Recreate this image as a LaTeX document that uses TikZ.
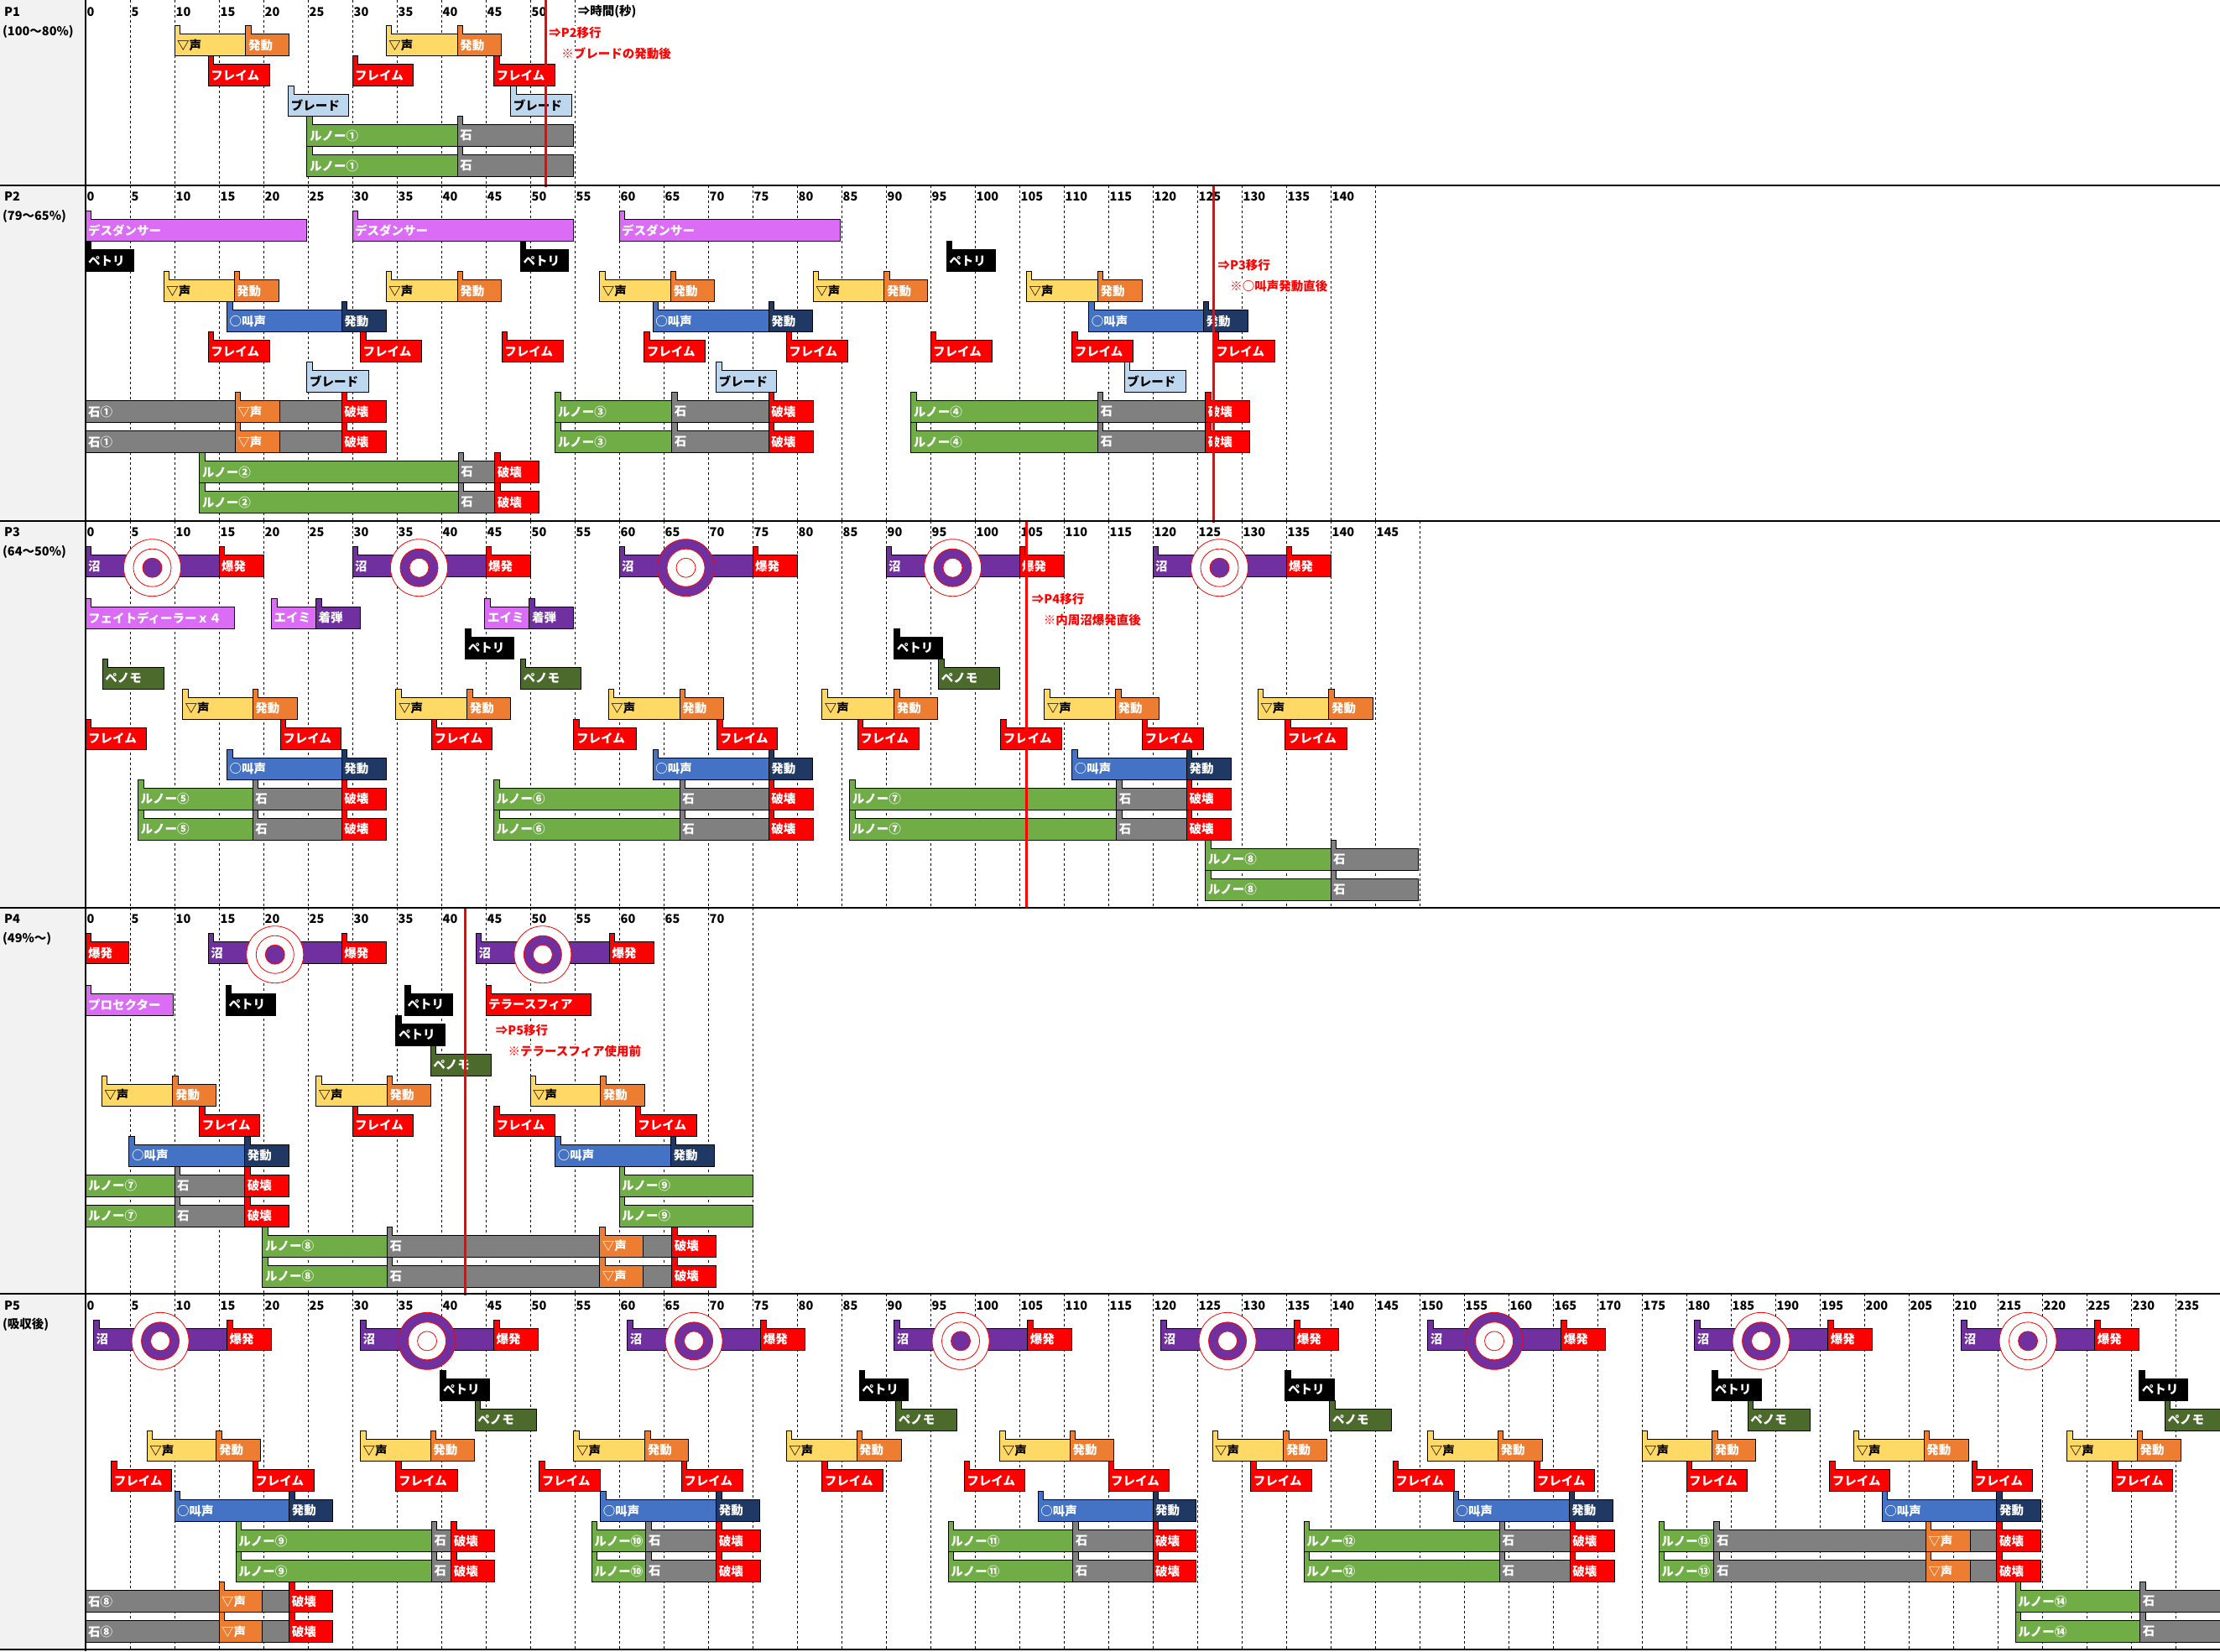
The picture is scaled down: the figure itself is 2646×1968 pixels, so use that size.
\documentclass[tikz,border=0pt]{standalone}
\usepackage{fontspec}
\setmainfont{Noto Sans CJK JP}

\definecolor{koeC}{HTML}{FFD966}
\definecolor{hatsuC}{HTML}{ED7D31}
\definecolor{flameC}{HTML}{FF0000}
\definecolor{bladeC}{HTML}{BDD7EE}
\definecolor{runoC}{HTML}{70AD47}
\definecolor{ishiC}{HTML}{808080}
\definecolor{danceC}{HTML}{DA6CF5}
\definecolor{sakebiC}{HTML}{4472C4}
\definecolor{navyC}{HTML}{203864}
\definecolor{numaC}{HTML}{7030A0}
\definecolor{penoC}{HTML}{4B6A2C}
\definecolor{colbg}{HTML}{F2F2F2}

\newcommand\lblfont{\fontsize{14.5}{16}\selectfont\bfseries}

\tikzset{
  barline/.style={draw=black, line width=1pt},
  lbl/.style={fill=none, anchor=west, inner sep=0pt, xshift=3pt, font=\lblfont},
  num/.style={anchor=west, inner sep=0pt, xshift=1.5pt, font=\lblfont},
  plbl/.style={anchor=west, inner sep=0pt, font=\lblfont},
  note/.style={anchor=west, inner sep=1pt, fill=white, text=flameC, font=\lblfont},
  gridline/.style={black, line width=0.8pt, dash pattern=on 3pt off 3pt},
  phase/.style={flameC, line width=3pt},
  ring/.style={draw=flameC, line width=0.8pt},
  koebar/.style={fill=koeC, text=black},
  hatsubar/.style={fill=hatsuC, text=white},
  flamebar/.style={fill=flameC, text=white},
  bladebar/.style={fill=bladeC, text=black},
  runobar/.style={fill=runoC, text=white},
  ishibar/.style={fill=ishiC, text=white},
  dancebar/.style={fill=danceC, text=white},
  petribar/.style={fill=black, text=white},
  sakebibar/.style={fill=sakebiC, text=white},
  navybar/.style={fill=navyC, text=white},
  numabar/.style={fill=numaC, text=white},
  penobar/.style={fill=penoC, text=white}
}

\newcount\lblno
% bar with a tab: {start}{end}{top}{style}{text}
\newcommand\flag[5]{%
  \filldraw[#4, barline] (#1,#3+26) -- (#1,#3-10) -- ++(6.5pt,0pt) -- ++(0pt,-10pt) -- (#2,#3) -- (#2,#3+26) -- cycle;
  \global\advance\lblno by 1
  \node[#4, lbl] (b\the\lblno) at (#1,#3+13) {#5};}
% bar without a tab
\newcommand\plainbar[5]{%
  \filldraw[#4, barline] (#1,#3) rectangle (#2,#3+26);
  \global\advance\lblno by 1
  \node[#4, lbl] (b\the\lblno) at (#1,#3+13) {#5};}
\newcommand\koe[4]{\flag{#1}{#2}{#4}{koebar}{▽声}\flag{#2}{#3}{#4}{hatsubar}{発動}}
\newcommand\sakebi[4]{\flag{#1}{#2}{#4}{sakebibar}{○叫声}\flag{#2}{#3}{#4}{navybar}{発動}}
\newcommand\runo[6]{%
  \foreach \yy in {#5,#5+36}{%
    \flag{#1}{#2}{\yy}{runobar}{#6}\flag{#2}{#3}{\yy}{ishibar}{石}\flag{#3}{#4}{\yy}{flamebar}{破壊}}}
\newcommand\target[5]{%
  \filldraw[ring, fill=#3] (#1,#2) circle (34pt);
  \filldraw[ring, fill=#4] (#1,#2) circle (22.5pt);
  \filldraw[ring, fill=#5] (#1,#2) circle (11.5pt);}
\newcommand\numa[5]{%
  \flag{#1}{#1+15}{#2}{numabar}{沼}\flag{#1+15}{#1+20}{#2}{flamebar}{爆発}%
  \target{#1+7.5}{#2+15}{#3}{#4}{#5}}

\begin{document}
\begin{tikzpicture}[x=1pt, y=-1pt]
 \useasboundingbox (0,0) rectangle (2646,1968);
 \fill[white] (0,0) rectangle (2646,1968);
 \fill[colbg] (0,0) rectangle (102,1968);
 \node[plbl] (p1) at (5,14) {P1};
 \node[plbl] (p1r) at (3,37.5) {(100～80\%)};
 \node[plbl] (p2) at (5,234) {P2};
 \node[plbl] (p2r) at (3,257.5) {(79～65\%)};
 \node[plbl] (p3) at (5,634) {P3};
 \node[plbl] (p3r) at (3,657.5) {(64～50\%)};
 \node[plbl] (p4) at (5,1095) {P4};
 \node[plbl] (p4r) at (3,1118.5) {(49\%～)};
 \node[plbl] (p5) at (5,1556) {P5};
 \node[plbl] (p5r) at (3,1579) {(吸収後)};

 \begin{scope}[xshift=102pt, x=10.6pt]
 % P1
 \foreach \t in {5,10,...,55} \draw[gridline] (\t,0) -- (\t,221);
 \foreach \t in {0,5,...,50} \node[num] (ha\t) at (\t,14) {\t};
 \node[num] (time) at (55.2,14) {⇒時間(秒)};
 \koe{10}{18}{22.9}{40.7}
 \koe{33.8}{41.8}{46.7}{40.7}
 \foreach \a/\b in {13.8/20.7, 30/36.8, 45.9/52.8} \flag{\a}{\b}{76.7}{flamebar}{フレイム};
 \foreach \a/\b in {22.8/29.6, 47.8/54.7} \flag{\a}{\b}{112.7}{bladebar}{ブレード};
 \foreach \yy in {148.7,184.7}{\flag{24.9}{41.8}{\yy}{runobar}{ルノー①}\flag{41.8}{54.9}{\yy}{ishibar}{石}}
 \draw[phase] (51.7,0) -- (51.7,223);
 \node[note] (n1a) at (52,39) {⇒P2移行};
 \node[note] (n1b) at (53.4,64) {※ブレードの発動後};

 % P2
 \foreach \t in {5,10,...,145} \draw[gridline] (\t,221) -- (\t,621);
 \foreach \t in {0,5,...,140} \node[num] (hb\t) at (\t,234) {\t};
 \foreach \a/\b in {0/24.9, 30/54.9, 60/84.9} \flag{\a}{\b}{261.7}{dancebar}{デスダンサー};
 \foreach \a/\b in {0/5.4, 48.9/54.3, 96.8/102.3} \flag{\a}{\b}{297.7}{petribar}{ペトリ};
 \foreach \a/\b/\c in {8.8/16.7/21.7, 33.8/41.8/46.7, 57.8/65.8/70.7, 81.8/89.8/94.7, 105.8/113.8/118.8} \koe{\a}{\b}{\c}{333.7};
 \foreach \a/\b/\c in {15.9/28.8/33.8, 63.8/76.8/81.7, 112.8/125.7/130.7} \sakebi{\a}{\b}{\c}{369.7};
 \foreach \a/\b in {13.8/20.7, 30.9/37.8, 46.8/53.7, 62.8/69.7, 78.8/85.7, 95/101.9, 110.9/117.8, 126.8/133.7} \flag{\a}{\b}{405.7}{flamebar}{フレイム};
 \foreach \a/\b in {24.9/31.8, 70.9/77.7, 116.8/123.7} \flag{\a}{\b}{441.7}{bladebar}{ブレード};
 \foreach \yy in {477.7,513.7}{\plainbar{0}{28.8}{\yy}{ishibar}{石①}\flag{16.8}{21.8}{\yy}{hatsubar}{▽声}\flag{28.8}{33.8}{\yy}{flamebar}{破壊}}
 \runo{52.8}{65.9}{76.8}{81.8}{477.7}{ルノー③}
 \runo{92.8}{113.8}{125.9}{130.9}{477.7}{ルノー④}
 \runo{12.8}{41.9}{46}{51}{549.7}{ルノー②}
 \draw[phase] (126.8,221) -- (126.8,623);
 \node[note] (n2a) at (127.2,315.7) {⇒P3移行};
 \node[note] (n2b) at (128.6,340.7) {※○叫声発動直後};

 % P3
 \foreach \t in {5,10,...,150} \draw[gridline] (\t,621) -- (\t,1082);
 \foreach \t in {0,5,...,145} \node[num] (hc\t) at (\t,634) {\t};
 \numa{0}{661.7}{white}{white}{numaC}
 \numa{30}{661.7}{white}{numaC}{white}
 \numa{60}{661.7}{numaC}{white}{white}
 \numa{90}{661.7}{white}{numaC}{white}
 \numa{120}{661.7}{white}{white}{numaC}
 \flag{0}{16.7}{723.4}{dancebar}{フェイトディーラーｘ４}
 \foreach \a in {20.9,44.9}{\flag{\a}{\a+5}{723.4}{dancebar}{エイミ}\flag{\a+5}{\a+10}{723.4}{numabar}{着弾}}
 \foreach \a/\b in {42.7/48.2, 90.9/96.4} \flag{\a}{\b}{759.4}{petribar}{ペトリ};
 \foreach \a/\b in {1.9/8.8, 48.9/55.7, 95.9/102.8} \flag{\a}{\b}{795.4}{penobar}{ペノモ};
 \foreach \a/\b/\c in {10.9/18.8/23.8, 34.9/42.9/47.8, 58.8/66.8/71.7, 82.8/90.9/95.8, 107.8/115.8/120.7, 131.8/139.8/144.8} \koe{\a}{\b}{\c}{831.4};
 \foreach \a/\b in {0/6.8, 21.9/28.7, 38.9/45.7, 54.9/61.9, 71/77.8, 86.8/93.7, 102.9/109.8, 118.8/125.7, 134.9/141.8} \flag{\a}{\b}{867.4}{flamebar}{フレイム};
 \foreach \a/\b/\c in {15.9/28.8/33.8, 63.8/76.8/81.7, 110.9/123.8/128.8} \sakebi{\a}{\b}{\c}{903.4};
 \runo{5.9}{18.8}{28.8}{33.8}{939.4}{ルノー⑤}
 \runo{45.9}{66.8}{76.8}{81.8}{939.4}{ルノー⑥}
 \runo{85.9}{115.9}{123.8}{128.8}{939.4}{ルノー⑦}
 \foreach \yy in {1011.4,1047.4}{\flag{125.9}{140}{\yy}{runobar}{ルノー⑧}\flag{140}{149.9}{\yy}{ishibar}{石}}
 \draw[phase] (105.8,621) -- (105.8,1082);
 \node[note] (n3a) at (106.3,714) {⇒P4移行};
 \node[note] (n3b) at (107.6,739) {※内周沼爆発直後};

 % P4
 \foreach \t in {5,10,...,75} \draw[gridline] (\t,1082) -- (\t,1542);
 \foreach \t in {0,5,...,70} \node[num] (hd\t) at (\t,1095) {\t};
 \flag{0}{4.9}{1122.7}{flamebar}{爆発}
 \numa{13.8}{1122.7}{white}{white}{numaC}
 \numa{43.9}{1122.7}{white}{numaC}{white}
 \flag{0}{9.9}{1184.4}{dancebar}{プロセクター}
 \foreach \a/\b in {15.8/21.4, 35.9/41.3} \flag{\a}{\b}{1184.4}{petribar}{ペトリ};
 \flag{45}{56.8}{1184.4}{flamebar}{テラースフィア}
 \flag{34.9}{40.4}{1220.4}{petribar}{ペトリ}
 \flag{38.8}{45.6}{1256.4}{penobar}{ペノモ}
 \foreach \a/\b/\c in {1.8/9.8/14.7, 25.9/33.9/38.8, 50/57.9/62.9} \koe{\a}{\b}{\c}{1292.4};
 \foreach \a/\b in {12.8/19.6, 30/36.8, 45.9/52.8, 61.8/68.7} \flag{\a}{\b}{1328.4}{flamebar}{フレイム};
 \foreach \a/\b/\c in {4.9/17.9/22.9, 52.8/65.8/70.7} \sakebi{\a}{\b}{\c}{1364.4};
 \foreach \yy in {1400.4,1436.4}{\plainbar{0}{10}{\yy}{runobar}{ルノー⑦}\flag{10}{17.9}{\yy}{ishibar}{石}\flag{17.9}{22.9}{\yy}{flamebar}{破壊}\flag{60}{75}{\yy}{runobar}{ルノー⑨}}
 \foreach \yy in {1472.4,1508.4}{\flag{19.9}{33.9}{\yy}{runobar}{ルノー⑧}\flag{33.9}{65.9}{\yy}{ishibar}{石}\flag{57.8}{62.7}{\yy}{hatsubar}{▽声}\flag{65.9}{70.9}{\yy}{flamebar}{破壊}}
 \draw[phase] (42.7,1082) -- (42.7,1544);
 \node[note] (n4a) at (46,1228.3) {⇒P5移行};
 \node[note] (n4b) at (47.4,1253.3) {※テラースフィア使用前};

 % P5
 \foreach \t in {5,10,...,235} \draw[gridline] (\t,1542) -- (\t,1966);
 \foreach \t in {0,5,...,235} \node[num] (he\t) at (\t,1556) {\t};
 \numa{0.9}{1583.3}{white}{numaC}{white}
 \numa{30.9}{1583.3}{numaC}{white}{white}
 \numa{60.9}{1583.3}{white}{numaC}{white}
 \numa{90.9}{1583.3}{white}{white}{numaC}
 \numa{120.9}{1583.3}{white}{numaC}{white}
 \numa{150.9}{1583.3}{numaC}{white}{white}
 \numa{180.9}{1583.3}{white}{numaC}{white}
 \numa{210.9}{1583.3}{white}{white}{numaC}
 \foreach \a/\b in {39.9/45.4, 87/92.5, 134.9/140.4, 182.9/188.4, 230.9/236.4} \flag{\a}{\b}{1643.5}{petribar}{ペトリ};
 \foreach \a/\b in {43.8/50.7, 91.1/98, 139.9/146.8, 186.9/193.9, 233.8/241} \flag{\a}{\b}{1679.5}{penobar}{ペノモ};
 \foreach \a/\b/\c in {6.9/14.7/19.7, 30.9/38.8/43.7, 54.9/62.9/67.8, 78.8/86.7/91.7, 102.8/110.7/115.6, 126.7/134.7/139.6, 150.9/158.8/163.8, 175/182.9/187.8, 198.8/206.7/211.7, 222.8/230.7/235.6} \koe{\a}{\b}{\c}{1715.5};
 \foreach \a/\b in {2.9/9.7, 18.8/25.7, 34.9/41.8, 51/57.9, 67/73.9, 82.8/89.7, 98.8/105.6, 115/121.8, 131/137.9, 147/153.9, 162.9/169.7, 180/186.8, 196.1/202.9, 212.1/218.9, 227.9/234.7} \flag{\a}{\b}{1751.5}{flamebar}{フレイム};
 \foreach \a/\b/\c in {10/22.9/27.8, 57.9/70.9/75.8, 107.1/120/124.9, 153.8/166.8/171.7, 202/214.9/219.9} \sakebi{\a}{\b}{\c}{1787.5};
 \runo{16.9}{38.9}{41.1}{46}{1823.5}{ルノー⑨}
 \runo{56.9}{63}{70.9}{75.9}{1823.5}{ルノー⑩}
 \runo{97}{111}{120}{124.9}{1823.5}{ルノー⑪}
 \runo{137}{159}{166.9}{171.9}{1823.5}{ルノー⑫}
 \foreach \yy in {1823.5,1859.5}{\flag{176.9}{183.1}{\yy}{runobar}{ルノー⑬}\flag{183.1}{214.9}{\yy}{ishibar}{石}\flag{206.9}{211.9}{\yy}{hatsubar}{▽声}\flag{214.9}{219.9}{\yy}{flamebar}{破壊}}
 \foreach \yy in {1895.5,1931.5}{\plainbar{0}{22.9}{\yy}{ishibar}{石⑧}\flag{15}{19.9}{\yy}{hatsubar}{▽声}\flag{22.9}{27.8}{\yy}{flamebar}{破壊}\flag{217}{231}{\yy}{runobar}{ルノー⑭}\flag{231}{241}{\yy}{ishibar}{石}}
 \end{scope}

 \draw[line width=1.2pt] (102,0) -- (102,1968);
 \foreach \yy in {221,621,1082,1542} \draw[line width=1.5pt] (0,\yy) -- (2646,\yy);
 \draw[line width=2.5pt] (0,1966) -- (2646,1966);
\end{tikzpicture}
\end{document}
